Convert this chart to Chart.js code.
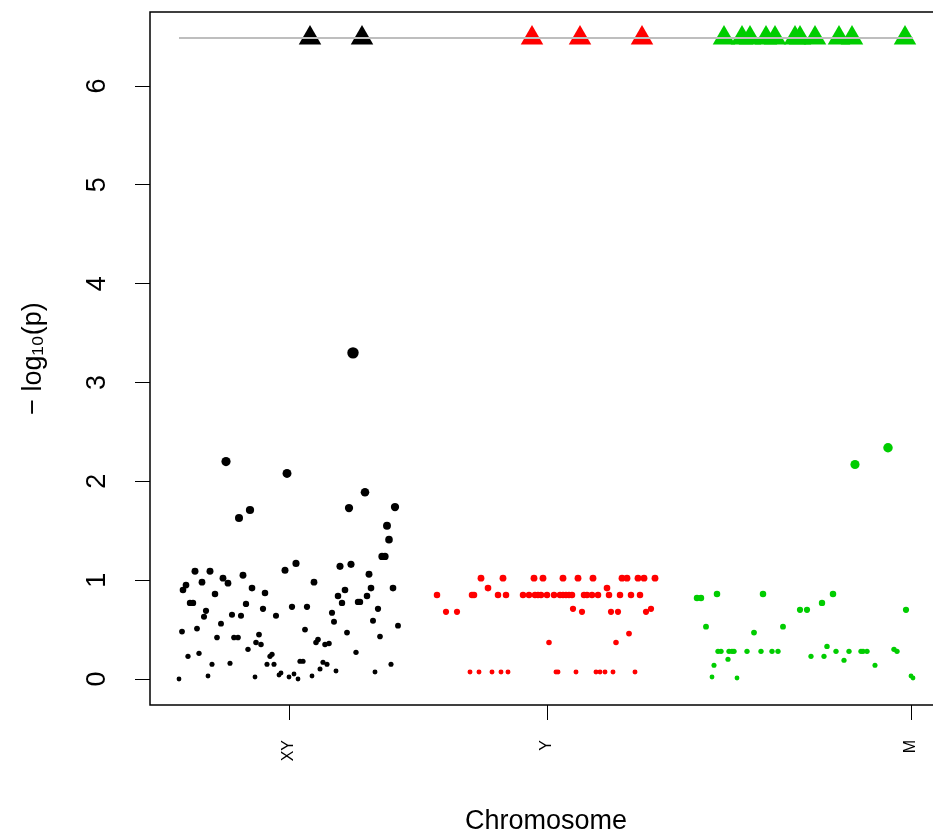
<!DOCTYPE html>
<html>
<head>
<meta charset="utf-8">
<script src="https://cdn.jsdelivr.net/npm/chart.js@4.4.1/dist/chart.umd.min.js"></script>
<style>
  html, body { margin: 0; padding: 0; background: #fff; overflow: hidden; }
  #manhattan { position: absolute; left: 0; top: 0; }
</style>
</head>
<body>
<canvas id="manhattan" width="942" height="838"></canvas>
<script>
// chromosome ticks (position along genome, arbitrary units)
const chromLabels = ['XY', 'Y', 'M'];
const chromTickPos = [139, 397, 761];

// -log10(p) values are capped at this level and drawn as triangles
const capLevel = 6.486;

// chromosome XY
const xyPos = [203, 76, 137, 89, 100, 215, 199, 245, 237, 239, 232, 235,
  45, 60, 73, 78, 93, 36, 33, 52, 65, 102, 115, 135, 40, 43, 96, 113, 56, 54, 82, 91, 126, 142,
  71, 32, 47, 67, 84, 88, 109, 106, 111, 98, 38, 49, 120, 122, 62, 80, 117, 124, 29, 58, 105, 129, 131, 139,
  146, 190, 201, 219, 164, 195, 188, 217, 221, 243, 192, 208, 210, 157, 228, 182, 184, 223, 248, 155,
  197, 230, 166, 168, 175, 179, 206, 150, 153, 173, 177, 170, 186, 225, 241, 144, 148, 162];
const xyLogP = [3.30, 2.20, 2.08, 1.63, 1.71, 1.89, 1.73, 1.74, 1.55, 1.41, 1.24, 1.24,
  1.09, 1.09, 1.02, 0.97, 1.05, 0.95, 0.90, 0.98, 0.86, 0.92, 0.87, 1.10, 0.77, 0.77, 0.76, 0.71, 0.69, 0.63, 0.65, 0.64, 0.64, 0.73,
  0.56, 0.48, 0.51, 0.42, 0.42, 0.42, 0.45, 0.37, 0.35, 0.30, 0.23, 0.26, 0.23, 0.25, 0.15, 0.16, 0.15, 0.15, 0.00, 0.03, 0.02, 0.04, 0.06, 0.02,
  1.17, 1.14, 1.16, 1.06, 0.98, 0.90, 0.84, 0.84, 0.92, 0.92, 0.77, 0.78, 0.78, 0.73, 0.71, 0.67, 0.58, 0.59, 0.54, 0.50,
  0.47, 0.43, 0.37, 0.40, 0.35, 0.36, 0.27, 0.18, 0.18, 0.17, 0.15, 0.10, 0.08, 0.07, 0.15, 0.05, 0.00, 0.03];
const xyCapPos = [160, 212];

// chromosome Y
const yPos = [331, 353, 384, 393, 413, 428, 443, 472, 477, 488, 494, 505,
  338, 457,
  287, 322, 324, 348, 356, 373, 379, 385, 388, 391, 397, 404, 410, 413, 416, 419, 422, 434, 437, 442, 448, 459, 470, 481, 490,
  296, 307, 432, 461, 468, 496, 501, 423,
  399, 466, 479,
  320, 329, 342, 351, 358, 406, 408, 426, 446, 450, 455, 463, 485];
const yLogP = [1.02, 1.02, 1.02, 1.02, 1.02, 1.02, 1.02, 1.02, 1.02, 1.02, 1.02, 1.02,
  0.92, 0.92,
  0.85, 0.85, 0.85, 0.85, 0.85, 0.85, 0.85, 0.85, 0.85, 0.85, 0.85, 0.85, 0.85, 0.85, 0.85, 0.85, 0.85, 0.85, 0.85, 0.85, 0.85, 0.85, 0.85, 0.85, 0.85,
  0.68, 0.68, 0.68, 0.68, 0.68, 0.68, 0.71, 0.71,
  0.37, 0.37, 0.46,
  0.07, 0.07, 0.07, 0.07, 0.07, 0.07, 0.07, 0.07, 0.07, 0.07, 0.07, 0.07, 0.07];
const yCapPos = [382, 430, 492];

// chromosome M
const mPos = [705, 738,
  567, 613, 683, 547, 551, 672, 650, 657, 756, 556, 633, 604, 677,
  568, 571, 579, 582, 584, 597, 611, 622, 628, 686, 699, 711, 713, 717, 747, 744,
  661, 674, 578, 694, 564, 725, 562, 587, 761, 763];
const mLogP = [2.17, 2.34,
  0.86, 0.86, 0.86, 0.82, 0.82, 0.77, 0.70, 0.70, 0.70, 0.53, 0.53, 0.47, 0.33,
  0.28, 0.28, 0.28, 0.28, 0.28, 0.28, 0.28, 0.28, 0.28, 0.28, 0.28, 0.28, 0.28, 0.28, 0.28, 0.30,
  0.23, 0.23, 0.20, 0.19, 0.14, 0.14, 0.02, 0.01, 0.03, 0.01];
const mCapPos = [574, 592, 600, 616, 625, 645, 650, 665, 689, 702, 755];

const colXY = '#000000';
const colY = '#ff0000';
const colM = '#00cd00';

Chart.defaults.font.family = '"Liberation Sans", Arial, Helvetica, sans-serif';
Chart.defaults.color = '#000';

function pts (pos, vals) {
  return pos.map((x, i) => ({ x: x, y: vals[i] }));
}
function capPts (pos) {
  return pos.map(x => ({ x: x, y: capLevel }));
}

const allPos = xyPos.concat(yPos, mPos, xyCapPos, yCapPos, mCapPos);
const lineData = [
  { x: Math.min(...allPos), y: capLevel },
  { x: Math.max(...allPos), y: capLevel }
];

function dotSet (pos, vals, color) {
  return {
    data: pts(pos, vals),
    backgroundColor: color,
    borderWidth: 0,
    pointBorderWidth: 0,
    pointRadius: c => 2.4 + c.raw.y,
    order: 2
  };
}
function capSet (pos, color) {
  return {
    data: capPts(pos),
    backgroundColor: color,
    pointBorderWidth: 0,
    pointStyle: 'triangle',
    pointRadius: 13,
    order: 2
  };
}

// fixed axis boxes, no extra padding from rotated labels
function fixBox (size) {
  return function (s) {
    if (s.isHorizontal()) s.height = size; else s.width = size;
    s.paddingTop = 0; s.paddingBottom = 0;
    s.paddingLeft = 0; s.paddingRight = 0;
  };
}

// box round the plot region
const boxPlugin = {
  id: 'box',
  afterDraw (chart) {
    const a = chart.chartArea;
    const ctx = chart.ctx;
    ctx.save();
    ctx.strokeStyle = '#000';
    ctx.lineWidth = 1.5;
    ctx.strokeRect(a.left, a.top, a.right - a.left, a.bottom - a.top);
    ctx.restore();
  }
};

new Chart(document.getElementById('manhattan'), {
  type: 'scatter',
  data: {
    datasets: [
      dotSet(xyPos, xyLogP, colXY),
      dotSet(yPos, yLogP, colY),
      dotSet(mPos, mLogP, colM),
      capSet(xyCapPos, colXY),
      capSet(yCapPos, colY),
      capSet(mCapPos, colM),
      {
        type: 'line',
        data: lineData,
        borderColor: '#bebebe',
        borderWidth: 2,
        pointRadius: 0,
        order: 1
      }
    ]
  },
  options: {
    responsive: false,
    animation: false,
    events: [],
    layout: { autoPadding: false, padding: { top: 12, right: 0, bottom: 0, left: 0 } },
    plugins: {
      legend: { display: false },
      tooltip: { enabled: false }
    },
    scales: {
      x: {
        type: 'linear',
        min: 0,
        max: 792,
        afterFit: fixBox(133),
        afterBuildTicks (s) { s.ticks = chromTickPos.map(v => ({ value: v })); },
        border: { display: false },
        grid: { drawOnChartArea: false, tickLength: 15, color: '#000', lineWidth: 1 },
        ticks: {
          autoSkip: false,
          minRotation: 90,
          maxRotation: 90,
          padding: 20,
          font: { size: 16 },
          callback: (v, i) => chromLabels[i]
        },
        title: {
          display: true,
          text: 'Chromosome',
          font: { size: 27 },
          padding: { top: 0, bottom: 0 }
        }
      },
      y: {
        type: 'linear',
        min: -0.263,
        max: 6.749,
        afterFit: fixBox(150),
        afterBuildTicks (s) { s.ticks = [0, 1, 2, 3, 4, 5, 6].map(v => ({ value: v })); },
        border: { display: false },
        grid: { drawOnChartArea: false, tickLength: 15, color: '#000', lineWidth: 1 },
        ticks: {
          minRotation: 90,
          maxRotation: 90,
          crossAlign: 'center',
          padding: 30,
          font: { size: 27 }
        },
        title: {
          display: true,
          text: '− log₁₀(p)',
          font: { size: 27 },
          padding: { top: 17, bottom: 0 }
        }
      }
    }
  },
  plugins: [boxPlugin]
});
</script>
</body>
</html>
